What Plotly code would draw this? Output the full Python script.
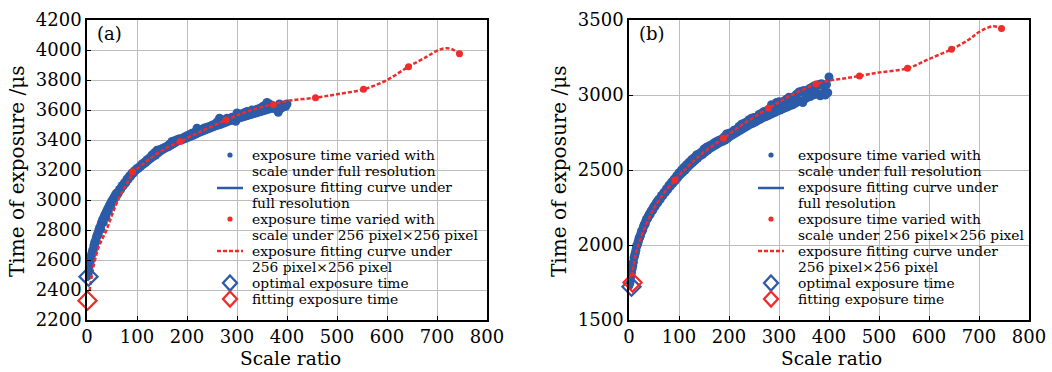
import plotly.graph_objects as go

# ---------------- Panel (a) data ----------------
a_bx1 = [0, 5, 10, 15, 20, 25, 30, 35, 40, 45, 50, 55, 60, 65, 70, 75, 80, 85, 90, 95,
         100, 105, 110, 115, 120, 125, 130, 135, 140, 145, 150, 155, 160, 165, 170, 175, 180, 185, 190, 195,
         200, 205, 210, 215, 220, 225, 230, 235, 240, 245, 250, 255, 260, 265, 270, 275, 280, 285, 290, 295,
         300, 305, 310, 315, 320, 325, 330, 335, 340, 345, 350, 355, 360, 365, 370, 375, 380, 385, 390, 395, 400]
a_by1 = [2490, 2570, 2645, 2710, 2760, 2810, 2855, 2890, 2925, 2960, 2990, 3020, 3045, 3070, 3095, 3115, 3140, 3160, 3180, 3195,
         3210, 3222, 3240, 3252, 3268, 3280, 3300, 3315, 3332, 3335, 3342, 3350, 3358, 3372, 3390, 3395, 3402, 3408, 3410, 3420,
         3428, 3436, 3445, 3450, 3478, 3466, 3472, 3480, 3485, 3490, 3498, 3505, 3520, 3545, 3528, 3535, 3545, 3540, 3552, 3540,
         3580, 3568, 3575, 3582, 3590, 3585, 3600, 3595, 3605, 3610, 3620, 3630, 3650, 3640, 3630, 3620, 3600, 3640, 3625, 3630, 3640]
a_bx2 = [2.5, 7.5, 12.5, 17.5, 22.5, 27.5, 32.5, 37.5, 42.5, 47.5, 52.5, 57.5, 62.5, 67.5, 72.5, 77.5, 82.5, 87.5, 92.5, 97.5,
         102.5, 107.5, 112.5, 117.5, 122.5, 127.5, 132.5, 137.5, 142.5, 147.5, 152.5, 157.5, 162.5, 167.5, 172.5, 177.5, 182.5, 187.5, 192.5, 197.5,
         202.5, 207.5, 212.5, 217.5, 222.5, 227.5, 232.5, 237.5, 242.5, 247.5, 252.5, 257.5, 262.5, 267.5, 272.5, 277.5, 282.5, 287.5, 292.5, 297.5,
         302.5, 307.5, 312.5, 317.5, 322.5, 327.5, 332.5, 337.5, 342.5, 347.5, 352.5, 357.5, 362.5, 367.5, 372.5, 377.5, 382.5, 387.5, 392.5, 397.5]
a_by2 = [2510, 2600, 2665, 2720, 2770, 2805, 2850, 2885, 2925, 2960, 2990, 3020, 3045, 3072, 3095, 3115, 3138, 3160, 3178, 3198,
         3210, 3225, 3238, 3250, 3265, 3278, 3290, 3300, 3315, 3328, 3338, 3348, 3355, 3365, 3375, 3385, 3395, 3400, 3405, 3412,
         3418, 3425, 3432, 3440, 3448, 3455, 3462, 3468, 3475, 3482, 3488, 3495, 3500, 3505, 3512, 3518, 3525, 3530, 3535, 3525,
         3545, 3550, 3555, 3560, 3565, 3570, 3575, 3580, 3585, 3590, 3595, 3600, 3605, 3610, 3612, 3615, 3585, 3610, 3620, 3625]
bx3 = [1.25, 3.75, 6.25, 8.75, 11.25, 13.75, 16.25, 18.75, 21.25, 23.75, 26.25, 28.75,
       31.25, 33.75, 36.25, 38.75, 41.25, 43.75, 46.25, 48.75, 51.25, 53.75, 56.25, 58.75]
a_by3 = [2505, 2550, 2595, 2630, 2665, 2695, 2725, 2750, 2775, 2800, 2822, 2845,
         2868, 2885, 2905, 2922, 2940, 2955, 2972, 2988, 3002, 3015, 3030, 3045]
a_fit_x = [0, 2, 5, 9, 14, 20, 26, 35, 49, 60, 75, 96, 120, 150, 176, 200, 250, 300, 350, 400]
a_fit_y = [2460, 2490, 2550, 2620, 2690, 2750, 2800, 2880, 2980, 3040, 3110, 3200, 3270, 3340, 3390, 3420, 3495, 3555, 3600, 3635]
a_red_x = [91, 186, 278, 373, 457, 553, 643, 745]
a_red_y = [3189, 3390, 3533, 3635, 3682, 3738, 3889, 3975]
a_rfit_x = [5, 10, 16, 25, 39, 50, 62, 78, 95, 120, 150, 186, 230, 278, 320, 373, 400, 457, 500, 553, 600, 643, 680, 700, 716, 730, 745]
a_rfit_y = [2393, 2500, 2600, 2700, 2800, 2900, 3000, 3100, 3190, 3260, 3330, 3390, 3460, 3533, 3590, 3640, 3660, 3682, 3705, 3738, 3800, 3889, 3956, 3995, 4011, 4005, 3973]
a_opt = (3, 2489)
a_fitopt = (1, 2329)

# ---------------- Panel (b) data ----------------
b_by1 = [1730, 1815, 1915, 1990, 2045, 2090, 2130, 2170, 2200, 2228, 2255, 2280, 2305, 2330, 2352, 2375, 2398, 2418, 2438, 2460,
         2482, 2500, 2518, 2535, 2552, 2568, 2582, 2600, 2608, 2620, 2640, 2652, 2660, 2668, 2680, 2690, 2698, 2705, 2720, 2740,
         2745, 2750, 2765, 2772, 2790, 2805, 2812, 2820, 2835, 2845, 2850, 2852, 2870, 2878, 2890, 2895, 2905, 2935, 2925, 2950,
         2955, 2948, 2960, 2972, 2985, 2975, 2990, 3005, 3020, 3025, 3030, 3020, 3040, 3050, 3060, 3065, 3070, 3075, 3060, 3070, 3120]
b_by2 = [1760, 1860, 1945, 2010, 2060, 2100, 2140, 2178, 2205, 2232, 2258, 2282, 2305, 2328, 2350, 2370, 2392, 2410, 2428, 2448,
         2468, 2485, 2500, 2518, 2535, 2550, 2565, 2580, 2595, 2605, 2620, 2632, 2645, 2655, 2665, 2675, 2685, 2692, 2700, 2712,
         2725, 2735, 2745, 2755, 2765, 2775, 2785, 2795, 2805, 2812, 2820, 2830, 2838, 2848, 2855, 2862, 2870, 2878, 2885, 2895,
         2900, 2908, 2915, 2922, 2930, 2935, 2945, 2955, 2962, 2950, 2975, 2985, 2990, 3000, 3005, 3010, 2995, 3010, 3000, 3015]
b_by3 = [1745, 1790, 1840, 1885, 1930, 1965, 1998, 2025, 2050, 2075, 2098, 2120,
         2140, 2160, 2178, 2192, 2208, 2222, 2236, 2248, 2262, 2275, 2288, 2300]
b_fit_x = [0, 5, 10, 15, 20, 25, 32, 40, 50, 59, 70, 80, 90, 99, 110, 120, 130, 145, 165, 180, 192, 210, 225, 240, 260, 280, 300, 320, 340, 360, 380, 400]
b_fit_y = [1720, 1810, 1910, 1985, 2040, 2085, 2144, 2195, 2250, 2300, 2350, 2395, 2435, 2478, 2515, 2548, 2578, 2615, 2660, 2690, 2712, 2750, 2790, 2822, 2860, 2898, 2935, 2970, 3000, 3025, 3045, 3060]
b_red_x = [92, 189, 279, 374, 461, 557, 645, 745]
b_red_y = [2433, 2711, 2911, 3073, 3127, 3178, 3305, 3444]
b_rfit_x = [5, 10, 15, 25, 40, 60, 92, 120, 150, 189, 230, 279, 320, 374, 400, 430, 461, 500, 557, 600, 645, 680, 700, 728, 745]
b_rfit_y = [1790, 1880, 1960, 2060, 2180, 2300, 2433, 2530, 2620, 2711, 2810, 2911, 2990, 3073, 3095, 3110, 3127, 3150, 3178, 3240, 3305, 3370, 3420, 3458, 3444]
b_opt = (5, 1722)
b_fitopt = (7, 1750)

x_ticks = [0, 100, 200, 300, 400, 500, 600, 700, 800]
a_yticks = [2200, 2400, 2600, 2800, 3000, 3200, 3400, 3600, 3800, 4000, 4200]
b_yticks = [1500, 2000, 2500, 3000, 3500]

legend_lines = [
    "exposure time varied with", "scale under full resolution",
    "exposure fitting curve under", "full resolution",
    "exposure time varied with", "scale under 256 pixel×256 pixel",
    "exposure fitting curve under", "256 pixel×256 pixel",
    "optimal exposure time",
    "fitting exposure time",
]
x_title = "Scale ratio"
y_title = "Time of exposure /μs"

BLUE = "#2C5BA8"
RED = "#EE2C2C"
FONT = "DejaVu Serif"

# plot-area geometry in pixels (figure 1052 x 372)
PL, PT, PW, PH = 87, 20, 942, 300


def px(xp):
    return (xp - PL) / PW


def py(yp):
    return 1 - (yp - PT) / PH


fig = go.Figure()


def add_panel(xa, ya, bx, by, fx, fy, rx, ry, rfx, rfy, opt, fopt):
    fig.add_trace(go.Scatter(x=fx, y=fy, mode="lines", line=dict(color=BLUE, width=2.5, shape="spline"),
                             xaxis=xa, yaxis=ya))
    fig.add_trace(go.Scatter(x=bx, y=by, mode="markers", marker=dict(color=BLUE, size=9),
                             xaxis=xa, yaxis=ya))
    fig.add_trace(go.Scatter(x=rfx, y=rfy, mode="lines",
                             line=dict(color=RED, width=2.5, dash="4px,2px", shape="spline"),
                             xaxis=xa, yaxis=ya))
    fig.add_trace(go.Scatter(x=rx, y=ry, mode="markers", marker=dict(color=RED, size=7),
                             xaxis=xa, yaxis=ya))
    fig.add_trace(go.Scatter(x=[opt[0]], y=[opt[1]], mode="markers",
                             marker=dict(symbol="diamond-open", color=BLUE, size=14, line=dict(width=2.2, color=BLUE)),
                             xaxis=xa, yaxis=ya, cliponaxis=False))
    fig.add_trace(go.Scatter(x=[fopt[0]], y=[fopt[1]], mode="markers",
                             marker=dict(symbol="diamond-open", color=RED, size=14, line=dict(width=2.2, color=RED)),
                             xaxis=xa, yaxis=ya, cliponaxis=False))


add_panel("x", "y", a_bx1 + a_bx2 + bx3, a_by1 + a_by2 + a_by3, a_fit_x, a_fit_y,
          a_red_x, a_red_y, a_rfit_x, a_rfit_y, a_opt, a_fitopt)
add_panel("x2", "y2", a_bx1 + a_bx2 + bx3, b_by1 + b_by2 + b_by3, b_fit_x, b_fit_y,
          b_red_x, b_red_y, b_rfit_x, b_rfit_y, b_opt, b_fitopt)

axis_common = dict(showgrid=True, gridcolor="#bdbdbd", gridwidth=1, zeroline=False,
                   showline=True, linecolor="black", linewidth=1.5, mirror=True,
                   ticks="inside", ticklen=4, tickcolor="black", automargin=False,
                   tickfont=dict(family=FONT, size=18, color="black"))

shapes = []
annotations = []


def legend_block(rect, sym_x, text_x):
    shapes.append(dict(type="rect", xref="paper", yref="paper", layer="between",
                       x0=px(rect[0]), x1=px(rect[1]), y0=py(rect[3]), y1=py(rect[2]),
                       fillcolor="white", line=dict(width=0)))
    ys = [155 + 16 * i for i in range(10)]
    for i, t in enumerate(legend_lines):
        annotations.append(dict(text=t, xref="paper", yref="paper", x=px(text_x), y=py(ys[i]),
                                xanchor="left", yanchor="middle", showarrow=False,
                                font=dict(family=FONT, size=13.8, color="black")))
    for yy, col in ((ys[0], BLUE), (ys[4], RED)):
        shapes.append(dict(type="circle", xref="paper", yref="paper", xsizemode="pixel", ysizemode="pixel",
                           xanchor=px(sym_x), yanchor=py(yy), x0=-2.6, x1=2.6, y0=-2.6, y1=2.6,
                           fillcolor=col, line=dict(width=0), layer="above"))
    shapes.append(dict(type="line", xref="paper", yref="paper", x0=px(sym_x - 13), x1=px(sym_x + 13),
                       y0=py(ys[2] + 1), y1=py(ys[2] + 1), line=dict(color=BLUE, width=2.5), layer="above"))
    shapes.append(dict(type="line", xref="paper", yref="paper", x0=px(sym_x - 13), x1=px(sym_x + 13),
                       y0=py(ys[6]), y1=py(ys[6]), line=dict(color=RED, width=2.5, dash="4px,2px"), layer="above"))
    for yy, col in ((ys[8], BLUE), (ys[9], RED)):
        shapes.append(dict(type="path", xref="paper", yref="paper", xsizemode="pixel", ysizemode="pixel",
                           xanchor=px(sym_x), yanchor=py(yy), path="M 0 7.5 L 7 0 L 0 -7.5 L -7 0 Z",
                           line=dict(color=col, width=2.3), fillcolor="rgba(0,0,0,0)", layer="above"))


legend_block((200, 486, 142, 319), 230, 250)
legend_block((733, 1028, 133, 319), 771, 796)

for lx, tx, ty in (("(a)", 95, 34), ("(b)", 637, 34)):
    annotations.append(dict(text=lx, xref="paper", yref="paper", x=px(tx), y=py(ty), xanchor="left",
                            yanchor="middle", showarrow=False, font=dict(family=FONT, size=18, color="black")))
for cx in (290, 831):
    annotations.append(dict(text=x_title, xref="paper", yref="paper", x=px(cx), y=py(359), xanchor="center",
                            yanchor="middle", showarrow=False, font=dict(family=FONT, size=18.5, color="black")))
for cx in (17, 559):
    annotations.append(dict(text=y_title, xref="paper", yref="paper", x=px(cx), y=py(171), xanchor="center",
                            yanchor="middle", textangle=-90, showarrow=False,
                            font=dict(family=FONT, size=20, color="black")))

fig.update_layout(
    width=1052, height=372,
    margin=dict(l=PL, r=1052 - PL - PW, t=PT, b=372 - PT - PH, autoexpand=False),
    paper_bgcolor="white", plot_bgcolor="white",
    showlegend=False,
    hovermode=False,
    xaxis=dict(domain=[0, px(487)], range=[0, 800], tickvals=x_ticks, anchor="y", **axis_common),
    yaxis=dict(domain=[0, 1], range=[2200, 4200], tickvals=a_yticks, anchor="x", **axis_common),
    xaxis2=dict(domain=[px(629), 1], range=[0, 800], tickvals=x_ticks, anchor="y2", **axis_common),
    yaxis2=dict(domain=[0, 1], range=[1500, 3500], tickvals=b_yticks, anchor="x2", **axis_common),
    shapes=shapes,
    annotations=annotations,
)

fig.write_html("out.html", config={"displayModeBar": False},
               post_script="document.body.style.margin='0';document.body.style.overflow='hidden';")
